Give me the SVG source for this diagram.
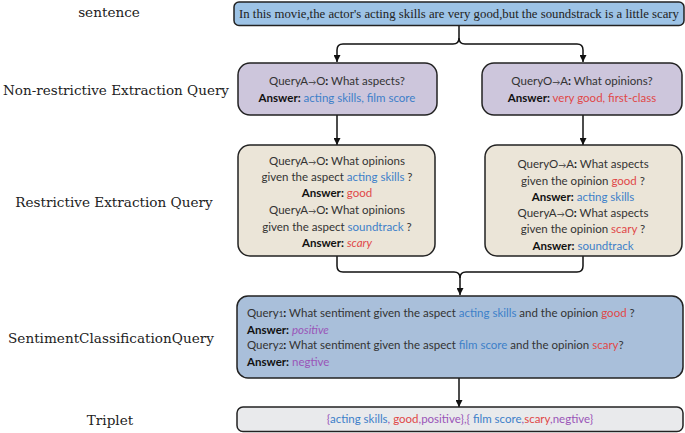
<svg xmlns="http://www.w3.org/2000/svg" width="685" height="433" viewBox="0 0 685 433">
<defs>
<marker id="arr" viewBox="0 0 10 10" refX="10" refY="5" markerWidth="7" markerHeight="7" markerUnits="userSpaceOnUse" orient="auto">
<path d="M0,0 L10,5 L0,10 z" fill="#111"/>
</marker>
<style>
.lbl{font-family:"DejaVu Serif","Liberation Serif",serif;font-size:13.6px;fill:#222;text-anchor:middle}
.box{stroke:#222;stroke-width:1.5}
.t{font-family:Lato,"Liberation Sans",sans-serif;font-size:11.5px;fill:#333}
.c{text-anchor:middle}
.b{font-weight:bold;fill:#111}
.ar{font-size:8px}
.bl{fill:#3d7fc9}
.rd{fill:#e04848}
.pu{fill:#9a55b8}
.it{font-style:italic}
.con{fill:none;stroke:#111;stroke-width:1.5}
</style>
</defs>
<g id="labels">
<text class="lbl" x="109" y="17">sentence</text>
<text class="lbl" x="116" y="95" textLength="226" lengthAdjust="spacingAndGlyphs">Non-restrictive Extraction Query</text>
<text class="lbl" x="114" y="207">Restrictive Extraction Query</text>
<text class="lbl" x="111" y="343">SentimentClassificationQuery</text>
<text class="lbl" x="110" y="425">Triplet</text>
</g>
<g id="connectors">
<path class="con" d="M459,25 V38 Q459,44 453,44 H343 Q337,44 337,50 V62" marker-end="url(#arr)"/>
<path class="con" d="M459,38 Q459,44 465,44 H577 Q583,44 583,50 V62"  marker-end="url(#arr)"/>
<path class="con" d="M337,115 V145" marker-end="url(#arr)"/>
<path class="con" d="M583,115 V145" marker-end="url(#arr)"/>
<path class="con" d="M337,256 V266 Q337,272 343,272 H454 Q460,272 460,278 V295" marker-end="url(#arr)"/>
<path class="con" d="M583,256 V266 Q583,272 577,272 H466 Q460,272 460,278"/>
<path class="con" d="M459,378 V407" marker-end="url(#arr)"/>
</g>
<g id="sentence">
<rect class="box" x="234" y="2" width="450" height="23.5" rx="5" fill="#9dc3e6"/>
<text x="459" y="18" text-anchor="middle" style="font-family:'Liberation Serif',serif;font-size:11.5px;fill:#222" textLength="440" lengthAdjust="spacingAndGlyphs">In this movie,the actor's acting skills are very good,but the soundstrack is a little scary</text>
</g>
<g id="nonres-a">
<rect class="box" x="238" y="63" width="199" height="52" rx="12" fill="#cdc6dc"/>
<text class="t c" x="337" y="85">QueryA<tspan class="ar">→</tspan>O<tspan class="b">:</tspan> What aspects?</text>
<text class="t c" x="337" y="102"><tspan class="b">Answer:</tspan> <tspan class="bl">acting skills, film score</tspan></text>
</g>
<g id="nonres-o">
<rect class="box" x="482" y="63" width="200" height="52" rx="12" fill="#cdc6dc"/>
<text class="t c" x="582" y="85">QueryO<tspan class="ar">→</tspan>A<tspan class="b">:</tspan> What opinions?</text>
<text class="t c" x="582" y="102"><tspan class="b">Answer:</tspan> <tspan class="rd">very good, first-class</tspan></text>
</g>
<g id="res-a">
<rect class="box" x="238" y="145" width="197" height="111" rx="12" fill="#ebe5d8"/>
<text class="t c" x="337" y="165">QueryA<tspan class="ar">→</tspan>O<tspan class="b">:</tspan> What opinions</text>
<text class="t c" x="337" y="181">given the aspect  <tspan class="bl">acting skills</tspan> ?</text>
<text class="t c" x="337" y="197"><tspan class="b">Answer:</tspan>  <tspan class="rd">good</tspan></text>
<text class="t c" x="337" y="214">QueryA<tspan class="ar">→</tspan>O<tspan class="b">:</tspan> What opinions</text>
<text class="t c" x="337" y="231">given the aspect <tspan class="bl">soundtrack</tspan> ?</text>
<text class="t c" x="337" y="247"><tspan class="b">Answer:</tspan>  <tspan class="rd it">scary</tspan></text>
</g>
<g id="res-o">
<rect class="box" x="485" y="145" width="197" height="111" rx="12" fill="#ebe5d8"/>
<text class="t c" x="583" y="168">QueryO<tspan class="ar">→</tspan>A<tspan class="b">:</tspan> What aspects</text>
<text class="t c" x="583" y="185">given the opinion  <tspan class="rd">good</tspan> ?</text>
<text class="t c" x="583" y="201"><tspan class="b">Answer:</tspan> <tspan class="bl">acting skills</tspan></text>
<text class="t c" x="583" y="217">QueryA<tspan class="ar">→</tspan>O<tspan class="b">:</tspan> What aspects</text>
<text class="t c" x="583" y="233">given the opinion <tspan class="rd">scary</tspan> ?</text>
<text class="t c" x="583" y="250"><tspan class="b">Answer:</tspan>  <tspan class="bl">soundtrack</tspan></text>
</g>
<g id="sentiment">
<rect class="box" x="237" y="296" width="446" height="82" rx="11" fill="#a9bfda"/>
<text class="t" x="247" y="317">Query<tspan font-size="8">1</tspan><tspan class="b">:</tspan> What sentiment given the aspect <tspan class="bl">acting skills</tspan> and the opinion  <tspan class="rd">good</tspan> ?</text>
<text class="t" x="247" y="334"><tspan class="b">Answer:</tspan> <tspan class="pu it">positive</tspan></text>
<text class="t" x="247" y="349">Query<tspan font-size="8">2</tspan><tspan class="b">:</tspan> What sentiment given the aspect <tspan class="bl">film score</tspan> and the opinion <tspan class="rd">scary</tspan>?</text>
<text class="t" x="247" y="366"><tspan class="b">Answer:</tspan> <tspan class="pu">negtive</tspan></text>
</g>
<g id="triplet">
<rect class="box" x="237" y="407" width="446" height="24.5" rx="6" fill="#e9eaec"/>
<text class="t c" x="460" y="423"><tspan class="pu">{</tspan><tspan class="bl">acting skills</tspan><tspan class="pu">, </tspan><tspan class="rd">good</tspan><tspan class="pu">,positive},{ </tspan><tspan class="bl">film score</tspan><tspan class="pu">,</tspan><tspan class="rd">scary</tspan><tspan class="pu">,negtive}</tspan></text>
</g>
</svg>
